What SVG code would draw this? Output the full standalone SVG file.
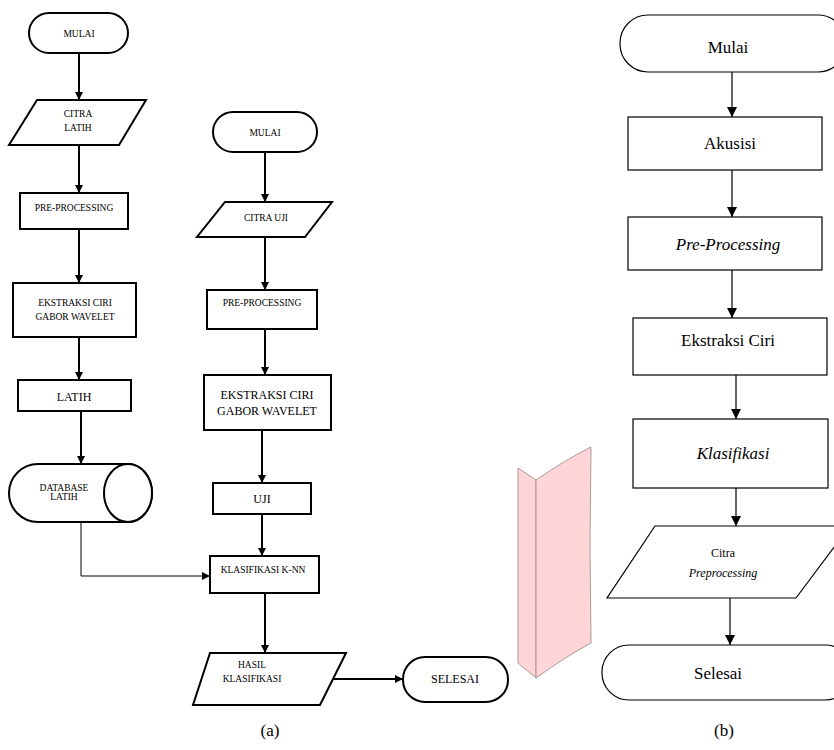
<svg xmlns="http://www.w3.org/2000/svg" width="834" height="750" viewBox="0 0 834 750">
<style>
text{font-family:'Liberation Serif','Times New Roman','DejaVu Serif',serif;fill:#000;text-anchor:middle}
.a{fill:#fff;stroke:#000;stroke-width:2}
.b{fill:#fff;stroke:#000;stroke-width:1.2}
.ta{font-size:9.5px}
.tb{font-size:17px}
.tc{font-size:12px}
.ca{fill:none;stroke:#000;stroke-width:2}
.cb{fill:none;stroke:#000;stroke-width:1.2}
.cap{font-size:17px}
</style>
<defs>
<marker id="ma" markerWidth="10" markerHeight="10" refX="8" refY="4" orient="auto" markerUnits="userSpaceOnUse"><path d="M0,0 L8,4 L0,8 Z" fill="#000"/></marker>
<marker id="mb" markerWidth="12" markerHeight="12" refX="10" refY="5" orient="auto" markerUnits="userSpaceOnUse"><path d="M0,0 L10,5 L0,10 Z" fill="#000"/></marker>
</defs>
<rect width="834" height="750" fill="#fff"/>

<g id="connectors">
<line class="ca" x1="79" y1="53" x2="79" y2="100" marker-end="url(#ma)"/>
<line class="ca" x1="79" y1="145" x2="79" y2="193" marker-end="url(#ma)"/>
<line class="ca" x1="79" y1="229" x2="79" y2="283" marker-end="url(#ma)"/>
<line class="ca" x1="79" y1="337" x2="79" y2="380" marker-end="url(#ma)"/>
<line class="ca" x1="81" y1="411" x2="81" y2="464" marker-end="url(#ma)"/>
<polyline fill="none" stroke="#000" stroke-width="1" points="81,522 81,576 210,576" marker-end="url(#ma)"/>
<line class="ca" x1="265" y1="152" x2="265" y2="202" marker-end="url(#ma)"/>
<line class="ca" x1="265" y1="237" x2="265" y2="290" marker-end="url(#ma)"/>
<line class="ca" x1="265" y1="329" x2="265" y2="375" marker-end="url(#ma)"/>
<line class="ca" x1="262" y1="430" x2="262" y2="483" marker-end="url(#ma)"/>
<line class="ca" x1="262" y1="514" x2="262" y2="556" marker-end="url(#ma)"/>
<line class="ca" x1="265" y1="593" x2="265" y2="653" marker-end="url(#ma)"/>
<line class="ca" x1="332" y1="679" x2="403" y2="679" marker-end="url(#ma)"/>
<line class="cb" x1="732" y1="72" x2="732" y2="117" marker-end="url(#mb)"/>
<line class="cb" x1="732" y1="170" x2="732" y2="217" marker-end="url(#mb)"/>
<line class="cb" x1="732" y1="270" x2="732" y2="318" marker-end="url(#mb)"/>
<line class="cb" x1="736" y1="375" x2="736" y2="419" marker-end="url(#mb)"/>
<line class="cb" x1="736" y1="488" x2="736" y2="526" marker-end="url(#mb)"/>
<line class="cb" x1="730" y1="598" x2="730" y2="645" marker-end="url(#mb)"/>
</g>

<g id="a-mulai"><rect class="a" x="29" y="13" width="99" height="40" rx="20"/><text class="ta" x="79" y="37">MULAI</text></g>
<g id="a-citra-latih"><polygon class="a" points="37,100 146,100 119,145 9,145"/><text class="ta" x="78" y="117">CITRA</text><text class="ta" x="78" y="131">LATIH</text></g>
<g id="a-pre1"><rect class="a" x="20" y="193" width="108" height="36"/><text class="ta" x="74" y="211">PRE-PROCESSING</text></g>
<g id="a-ekstraksi1"><rect class="a" x="13" y="283" width="123" height="54"/><text class="ta" x="75" y="306">EKSTRAKSI CIRI</text><text class="ta" x="75" y="320">GABOR WAVELET</text></g>
<g id="a-latih"><rect class="a" x="18" y="380" width="113" height="31"/><text class="tc" x="74" y="401">LATIH</text></g>
<g id="a-database"><path class="a" d="M38,464 L128,464 A24,29 0 0 1 128,522 L38,522 A29,29 0 0 1 38,464 Z"/><ellipse class="a" cx="128" cy="493" rx="24" ry="29"/><text class="ta" x="64" y="491" font-size="8">DATABASE</text><text class="ta" x="64" y="500" font-size="8">LATIH</text></g>

<g id="a-mulai2"><rect class="a" x="213" y="112" width="104" height="40" rx="20"/><text class="ta" x="265" y="136">MULAI</text></g>
<g id="a-citra-uji"><polygon class="a" points="225,202 332,202 305,237 197,237"/><text class="ta" x="266" y="221">CITRA UJI</text></g>
<g id="a-pre2"><rect class="a" x="207" y="290" width="110" height="39"/><text class="ta" x="262" y="306">PRE-PROCESSING</text></g>
<g id="a-ekstraksi2"><rect class="a" x="204" y="375" width="127" height="55"/><text class="tc" x="267" y="399" font-size="11">EKSTRAKSI CIRI</text><text class="tc" x="267" y="415" font-size="11">GABOR WAVELET</text></g>
<g id="a-uji"><rect class="a" x="213" y="483" width="98" height="31"/><text class="tc" x="262" y="503">UJI</text></g>
<g id="a-knn"><rect class="a" x="210" y="556" width="109" height="37"/><text class="ta" x="263" y="573">KLASIFIKASI K-NN</text></g>
<g id="a-hasil"><polygon class="a" points="210,653 346,653 320,705 193,705"/><text class="ta" x="252" y="668">HASIL</text><text class="ta" x="252" y="682">KLASIFIKASI</text></g>
<g id="a-selesai"><rect class="a" x="403" y="657" width="105" height="45" rx="22"/><text class="tc" x="455" y="683" font-size="11">SELESAI</text></g>

<g id="pink-shape">
<path d="M518,468 L536,480 L536,678 L518,663 Z" fill="#ffd5d8" stroke="#a89a9a" stroke-width="1"/>
<path d="M536,480 Q565,460 591,447 Q589,545 591,643 Q565,657 536,678 Z" fill="#ffd5d8" stroke="#a89a9a" stroke-width="1"/>
</g>

<g id="b-mulai"><rect class="b" x="620" y="15" width="226" height="57" rx="28"/><text class="tb" x="728" y="53">Mulai</text></g>
<g id="b-akusisi"><rect class="b" x="628" y="117" width="194" height="53"/><text class="tb" x="730" y="149">Akusisi</text></g>
<g id="b-pre"><rect class="b" x="628" y="217" width="194" height="53"/><text class="tb" x="728" y="250" font-style="italic">Pre-Processing</text></g>
<g id="b-ekstraksi"><rect class="b" x="633" y="318" width="194" height="57"/><text class="tb" x="728" y="346">Ekstraksi Ciri</text></g>
<g id="b-klasifikasi"><rect class="b" x="633" y="419" width="195" height="69"/><text class="tb" x="733" y="459" font-style="italic">Klasifikasi</text></g>
<g id="b-citra"><polygon class="b" points="655,526 850,526 796,598 607,598"/><text class="tc" x="723" y="557">Citra</text><text class="tc" x="723" y="577" font-style="italic">Preprocessing</text></g>
<g id="b-selesai"><rect class="b" x="602" y="645" width="250" height="55" rx="27"/><text class="tb" x="718" y="679">Selesai</text></g>

<text class="cap" x="270" y="736">(a)</text>
<text class="cap" x="724" y="736">(b)</text>
</svg>
